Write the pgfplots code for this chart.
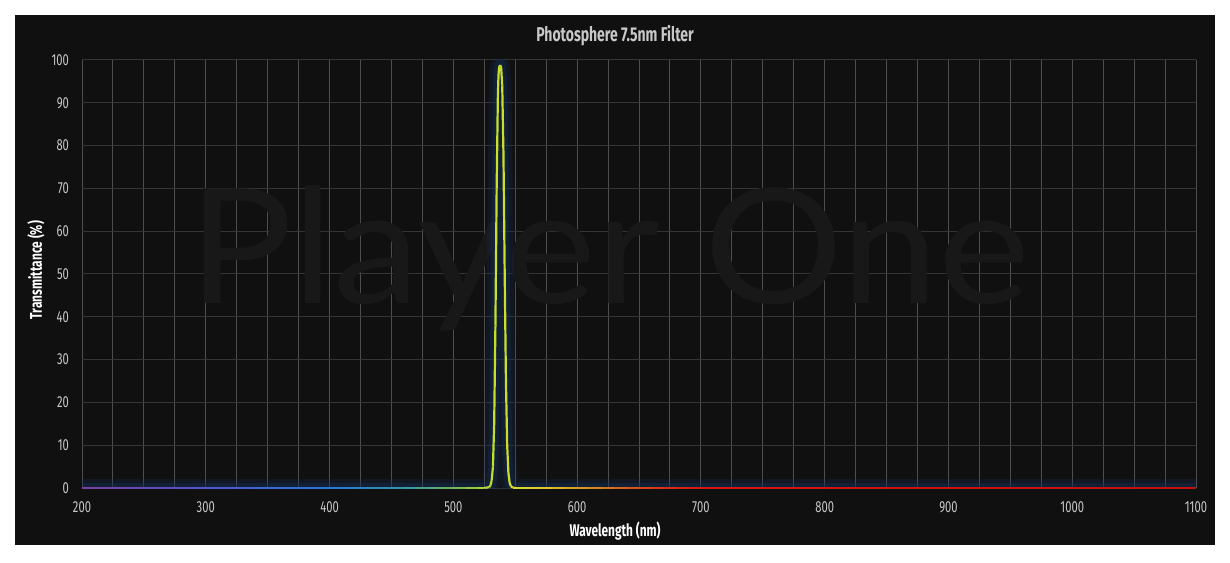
\documentclass[border=0pt]{standalone}
\usepackage{pgfplots}
\pgfplotsset{compat=1.18}
\usepackage{pgfplotstable}
\usepackage{fontspec}
\setmainfont{Fira Sans}[FakeStretch=0.70]
\newfontfamily\wmfont{Lato}

\definecolor{bg}{RGB}{16,16,16}
\definecolor{vgrid}{RGB}{78,78,78}
\definecolor{hgrid}{RGB}{52,52,52}
\definecolor{tick}{RGB}{200,200,200}
\definecolor{glow}{RGB}{22,48,92}
\definecolor{wm}{RGB}{24,24,24}

% Photosphere 7.5nm filter transmission curve
\pgfplotstableread{
wl T
200 0
210 0
220 0
230 0
240 0
250 0
260 0
270 0
280 0
290 0
300 0
310 0
320 0
330 0
340 0
350 0
360 0
370 0
380 0
390 0
400 0
410 0
420 0
430 0
440 0
450 0
460 0
470 0
480 0
490 0
500 0
510 0
520 0
525 0
529 0.2
530 0.6
531 1.8
532 5
533 15
534 38
535 70
536 92
536.5 96.5
537 98.3
537.8 98.8
538.6 98.3
539.5 94
540.5 78
541.5 50
542.5 25
543.5 10
544.5 3.5
545.5 1.2
546.5 0.4
548 0.1
550 0
560 0
570 0
580 0
590 0
600 0
610 0
620 0
630 0
640 0
650 0
660 0
670 0
680 0
690 0
700 0
750 0
800 0
850 0
900 0
950 0
1000 0
1050 0
1100 0
}\filterdata

\begin{document}
\begin{tikzpicture}
\useasboundingbox (-41pt,-37pt) rectangle (574pt,244pt);
\fill[white] (-41pt,-37pt) rectangle (574pt,244pt);
\fill[bg] (-33.5pt,-28.5pt) rectangle (566.5pt,236.5pt);
\begin{axis}[
  scale only axis,
  width=557pt,
  height=214pt,
  xmin=200, xmax=1100,
  ymin=0, ymax=100,
  xtick={200,300,...,1100},
  ytick={0,10,...,100},
  minor x tick num=3,
  grid=both,
  major x grid style={vgrid, line width=0.5pt},
  minor x grid style={vgrid, line width=0.5pt},
  major y grid style={hgrid, line width=0.5pt},
  axis line style={draw=none},
  major tick length=0pt,
  minor tick length=0pt,
  tick style={draw=none},
  /pgf/number format/assume math mode=true,
  /pgf/number format/set thousands separator={},
  ticklabel style={font=\fontsize{8}{9}\selectfont, text=tick},
  yticklabel style={xshift=-3pt},
  xticklabel style={yshift=-3.5pt},
  title={Photosphere 7.5nm Filter},
  title style={at={(0.4785,1.028)}, anchor=center, font=\bfseries\fontsize{10}{11}\selectfont, text=tick},
  xlabel={Wavelength (nm)},
  xlabel style={at={(0.4785,-0.1005)}, anchor=center, font=\bfseries\fontsize{8.5}{9}\selectfont, text=white},
  ylabel={Transmittance (\%)},
  ylabel style={at={(-0.0413,0.509)}, anchor=center, font=\bfseries\fontsize{8.5}{9}\selectfont, text=white},
  colormap={spec}{rgb255(200)=(123,63,160) rgb255(300)=(80,85,205) rgb255(400)=(40,120,215) rgb255(460)=(50,150,170) rgb255(500)=(110,180,90) rgb255(535)=(200,225,40) rgb255(570)=(225,205,45) rgb255(610)=(215,140,35) rgb255(660)=(215,60,25) rgb255(700)=(215,20,20) rgb255(1100)=(195,15,15)},
  point meta min=200, point meta max=1100,
]
\node[font=\wmfont\fontsize{80}{80}\selectfont, text=wm] at (axis cs:626,53.7) {\scalebox{1.087}[1]{Player One}};
\addplot[glow, opacity=0.25, line width=9pt] table[x=wl, y=T] {\filterdata};
\addplot[glow, opacity=0.35, line width=5pt] table[x=wl, y=T] {\filterdata};
\addplot[mesh, point meta=x, line width=1.1pt] table[x=wl, y=T] {\filterdata};
\end{axis}
\end{tikzpicture}
\end{document}
